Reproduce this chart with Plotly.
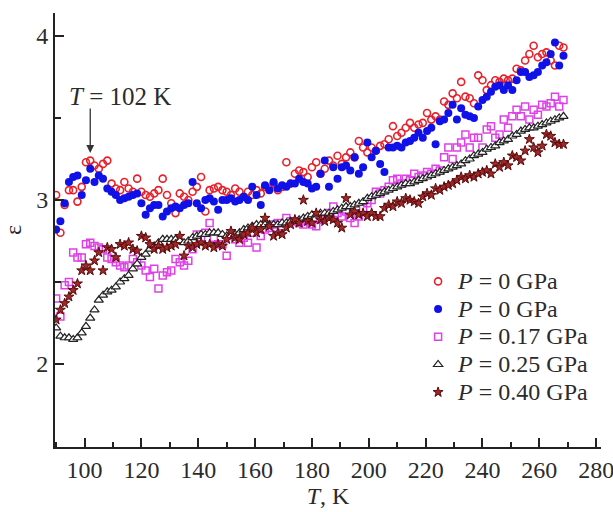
import plotly.graph_objects as go

# Temperature grid (K)
T = [90.0, 91.5, 93.0, 94.5, 96.0, 97.5, 99.0, 100.5, 102.0, 103.5,
     105.0, 106.5, 108.0, 109.5, 111.0, 112.5, 114.0, 115.5, 117.0, 118.5,
     120.0, 121.5, 123.0, 124.5, 126.0, 127.5, 129.0, 130.5, 132.0, 133.5,
     135.0, 136.5, 138.0, 139.5, 141.0, 142.5, 144.0, 145.5, 147.0, 148.5,
     150.0, 151.5, 153.0, 154.5, 156.0, 157.5, 159.0, 160.5, 162.0, 163.5,
     165.0, 166.5, 168.0, 169.5, 171.0, 172.5, 174.0, 175.5, 177.0, 178.5,
     180.0, 181.5, 183.0, 184.5, 186.0, 187.5, 189.0, 190.5, 192.0, 193.5,
     195.0, 196.5, 198.0, 199.5, 201.0, 202.5, 204.0, 205.5, 207.0, 208.5,
     210.0, 211.5, 213.0, 214.5, 216.0, 217.5, 219.0, 220.5, 222.0, 223.5,
     225.0, 226.5, 228.0, 229.5, 231.0, 232.5, 234.0, 235.5, 237.0, 238.5,
     240.0, 241.5, 243.0, 244.5, 246.0, 247.5, 249.0, 250.5, 252.0, 253.5,
     255.0, 256.5, 258.0, 259.5, 261.0, 262.5, 264.0, 265.5, 267.0, 268.5]

eps_p0_open = [3.03, 2.80, 2.97, 3.06, 3.06, 2.99, 3.08, 3.23, 3.24, 3.21,
               3.19, 3.22, 3.24, 3.10, 3.07, 3.06, 3.11, 3.07, 3.05, 3.13,
               3.05, 3.03, 3.02, 3.04, 3.06, 3.13, 3.03, 2.98, 2.92, 3.04,
               3.02, 3.00, 3.05, 3.08, 3.14, 2.93, 3.06, 3.07, 3.08, 3.06,
               3.05, 3.03, 3.07, 3.05, 3.02, 3.05, 3.03, 3.06, 3.04, 3.08,
               3.07, 3.10, 3.06, 3.08, 3.23, 3.10, 3.16, 3.18, 3.17, 3.14,
               3.20, 3.23, 3.16, 3.19, 3.24, 3.21, 3.27, 3.22, 3.26, 3.29,
               3.26, 3.36, 3.32, 3.29, 3.32, 3.30, 3.33, 3.34, 3.37, 3.45,
               3.39, 3.41, 3.44, 3.47, 3.44, 3.46, 3.47, 3.53, 3.49, 3.51,
               3.49, 3.60, 3.58, 3.65, 3.62, 3.72, 3.63, 3.62, 3.59, 3.76,
               3.73, 3.67, 3.70, 3.73, 3.72, 3.74, 3.73, 3.74, 3.80, 3.79,
               3.85, 3.89, 3.94, 3.87, 3.89, 3.90, 3.85, 3.82, 3.94, 3.93]

eps_p0_fill = [2.82, 2.87, 2.98, 3.11, 3.14, 3.15, 3.03, 3.12, 3.19, 3.11,
               3.15, 3.13, 3.07, 3.05, 3.03, 3.00, 3.01, 3.02, 3.03, 3.04,
               2.98, 2.91, 2.95, 2.97, 2.97, 2.90, 2.93, 2.95, 2.96, 2.95,
               2.97, 2.98, 3.11, 2.98, 2.95, 3.00, 3.01, 2.99, 2.94, 3.00,
               3.00, 3.01, 2.99, 3.00, 3.02, 3.00, 3.08, 3.03, 2.97, 3.09,
               3.06, 3.11, 3.07, 3.09, 3.08, 3.10, 3.10, 3.13, 3.11, 3.10,
               3.07, 3.08, 3.16, 3.24, 3.08, 3.20, 3.13, 3.20, 3.21, 3.18,
               3.26, 3.16, 3.20, 3.35, 3.26, 3.30, 3.22, 3.17, 3.32, 3.32,
               3.33, 3.32, 3.35, 3.36, 3.38, 3.41, 3.38, 3.42, 3.44, 3.34,
               3.48, 3.49, 3.53, 3.58, 3.49, 3.56, 3.52, 3.51, 3.50, 3.57,
               3.61, 3.63, 3.66, 3.69, 3.70, 3.67, 3.70, 3.67, 3.73, 3.78,
               3.78, 3.75, 3.76, 3.78, 3.82, 3.84, 3.89, 3.96, 3.82, 3.88]

eps_p017 = [2.40, 2.29, 2.48, 2.50, 2.68, 2.65, 2.65, 2.73, 2.74, 2.72,
            2.71, 2.70, 2.65, 2.64, 2.62, 2.60, 2.59, 2.60, 2.64, 2.62,
            2.60, 2.57, 2.53, 2.58, 2.46, 2.54, 2.56, 2.57, 2.64, 2.62,
            2.60, 2.63, 2.70, 2.79, 2.77, 2.80, 2.86, 2.77, 2.73, 2.73,
            2.66, 2.78, 2.76, 2.74, 2.77, 2.74, 2.80, 2.71, 2.78, 2.82,
            2.83, 2.85, 2.86, 2.84, 2.89, 2.87, 2.87, 2.86, 2.85, 2.87,
            2.85, 2.84, 2.88, 2.90, 2.92, 2.96, 2.92, 2.90, 2.93, 2.89,
            2.86, 2.90, 2.95, 2.98, 3.00, 3.05, 3.04, 3.06, 3.08, 3.12,
            3.13, 3.10, 3.13, 3.12, 3.16, 3.14, 3.15, 3.17, 3.16, 3.19,
            3.18, 3.26, 3.32, 3.25, 3.32, 3.35, 3.40, 3.32, 3.38, 3.38,
            3.32, 3.43, 3.45, 3.38, 3.40, 3.49, 3.44, 3.51, 3.55, 3.51,
            3.57, 3.49, 3.55, 3.52, 3.58, 3.57, 3.59, 3.63, 3.57, 3.61]

eps_p025 = [2.22, 2.17, 2.16, 2.16, 2.15, 2.16, 2.19, 2.23, 2.28, 2.33,
            2.39, 2.42, 2.44, 2.45, 2.47, 2.50, 2.52, 2.54, 2.58, 2.61,
            2.65, 2.67, 2.70, 2.72, 2.74, 2.76, 2.76, 2.76, 2.76, 2.75,
            2.74, 2.75, 2.77, 2.78, 2.79, 2.79, 2.80, 2.80, 2.80, 2.79,
            2.78, 2.78, 2.79, 2.80, 2.82, 2.83, 2.84, 2.85, 2.85, 2.85,
            2.85, 2.85, 2.85, 2.86, 2.86, 2.87, 2.87, 2.88, 2.89, 2.90,
            2.91, 2.91, 2.92, 2.92, 2.92, 2.93, 2.94, 2.95, 2.96, 2.96,
            2.97, 2.98, 2.99, 3.01, 3.02, 3.03, 3.04, 3.05, 3.06, 3.07,
            3.08, 3.09, 3.10, 3.10, 3.11, 3.12, 3.13, 3.14, 3.15, 3.16,
            3.17, 3.18, 3.19, 3.20, 3.21, 3.22, 3.24, 3.25, 3.27, 3.28,
            3.29, 3.31, 3.32, 3.33, 3.35, 3.36, 3.37, 3.39, 3.40, 3.42,
            3.43, 3.44, 3.44, 3.45, 3.46, 3.47, 3.48, 3.49, 3.50, 3.51]

eps_p040 = [2.27, 2.33, 2.37, 2.41, 2.45, 2.49, 2.57, 2.60, 2.57, 2.63,
            2.68, 2.57, 2.71, 2.70, 2.65, 2.73, 2.72, 2.74, 2.70, 2.69,
            2.78, 2.77, 2.73, 2.70, 2.72, 2.70, 2.71, 2.72, 2.73, 2.78,
            2.66, 2.72, 2.71, 2.73, 2.74, 2.72, 2.73, 2.71, 2.73, 2.72,
            2.76, 2.81, 2.77, 2.76, 2.79, 2.80, 2.83, 2.80, 2.82, 2.89,
            2.84, 2.78, 2.80, 2.79, 2.83, 2.85, 2.88, 2.86, 3.00, 2.87,
            2.86, 2.92, 2.88, 2.87, 2.89, 2.88, 2.86, 2.83, 3.01, 2.91,
            2.93, 2.91, 2.92, 2.90, 2.92, 2.90, 2.90, 2.95, 2.97, 2.96,
            2.99, 2.98, 3.01, 3.00, 2.99, 2.98, 3.02, 3.04, 3.03, 3.07,
            3.06, 3.08, 3.09, 3.10, 3.12, 3.14, 3.13, 3.15, 3.14, 3.16,
            3.17, 3.18, 3.16, 3.22, 3.20, 3.23, 3.21, 3.27, 3.26, 3.24,
            3.30, 3.37, 3.32, 3.29, 3.33, 3.40, 3.39, 3.35, 3.34, 3.34]

labels = ["<i>P</i> = 0 GPa", "<i>P</i> = 0 GPa", "<i>P</i> = 0.17 GPa",
          "<i>P</i> = 0.25 GPa", "<i>P</i> = 0.40 GPa"]
ANNOT_T = 102

FONT = "Liberation Serif, Times New Roman, serif"
TXT = "#2b2b2b"


def leg(name):
    return '<span style="font-size:24px">' + name + '</span>'


fig = go.Figure()
fig.add_trace(go.Scatter(x=T, y=eps_p0_open, mode="markers", name=leg(labels[0]),
                         marker=dict(symbol="circle-open", size=7, color="#e8202a",
                                     line=dict(width=1.6, color="#e8202a"))))
fig.add_trace(go.Scatter(x=T, y=eps_p0_fill, mode="markers", name=leg(labels[1]),
                         marker=dict(symbol="circle", size=8, color="#1010e8")))
fig.add_trace(go.Scatter(x=T, y=eps_p017, mode="markers", name=leg(labels[2]),
                         marker=dict(symbol="square-open", size=7, color="#e040e8",
                                     line=dict(width=1.5, color="#e040e8"))))
fig.add_trace(go.Scatter(x=T, y=eps_p025, mode="markers", name=leg(labels[3]),
                         marker=dict(symbol="triangle-up", size=8, color="#ffffff",
                                     line=dict(width=1.2, color="#222222"))))
fig.add_trace(go.Scatter(x=T, y=eps_p040, mode="markers", name=leg(labels[4]),
                         marker=dict(symbol="star", size=7.5, color="#a0282a",
                                     line=dict(width=1, color="#5a0a0a"))))

axis_common = dict(showline=True, linecolor="#222222", linewidth=2,
                   ticks="inside", ticklen=9, tickwidth=1.5, tickcolor="#222222",
                   showgrid=False, zeroline=False, mirror=False, automargin=False,
                   tickfont=dict(family=FONT, size=24, color=TXT))

fig.update_xaxes(range=[89.6, 281.7], tick0=0, dtick=20, ticklabeloverflow="allow",
                 minor=dict(dtick=10, ticks="inside", ticklen=5, tickcolor="#222222", tickwidth=1.5),
                 title=dict(text="<i>T</i>, K", font=dict(family=FONT, size=24, color=TXT), standoff=2),
                 **axis_common)
fig.update_yaxes(range=[1.494, 4.14], tick0=0, dtick=1,
                 minor=dict(dtick=0.5, ticks="inside", ticklen=6, tickcolor="#222222", tickwidth=1.5),
                 title=dict(text="ε", font=dict(family=FONT, size=24, color=TXT), standoff=8),
                 **axis_common)

fig.add_annotation(x=ANNOT_T, y=3.287, ax=ANNOT_T, ay=3.567, axref="x", ayref="y",
                   xref="x", yref="y", text="", showarrow=True, arrowhead=2,
                   arrowsize=1.2, arrowwidth=1.3, arrowcolor="#333333")
fig.add_annotation(x=112.3, y=3.628, xref="x", yref="y", text="<i>T</i> = 102 K",
                   showarrow=False, font=dict(family=FONT, size=25, color=TXT))

fig.update_layout(width=613, height=512, margin=dict(l=55, r=12, t=13, b=65),
                  plot_bgcolor="white", paper_bgcolor="white",
                  legend=dict(x=0.665, y=0.425, xanchor="left", yanchor="top",
                              bgcolor="rgba(0,0,0,0)", tracegroupgap=0,
                              font=dict(family=FONT, size=19, color=TXT)),
                  showlegend=True)

fig.write_html("out.html", config={"displayModeBar": False},
               post_script="document.body.style.margin='0';document.body.style.overflow='hidden';")
